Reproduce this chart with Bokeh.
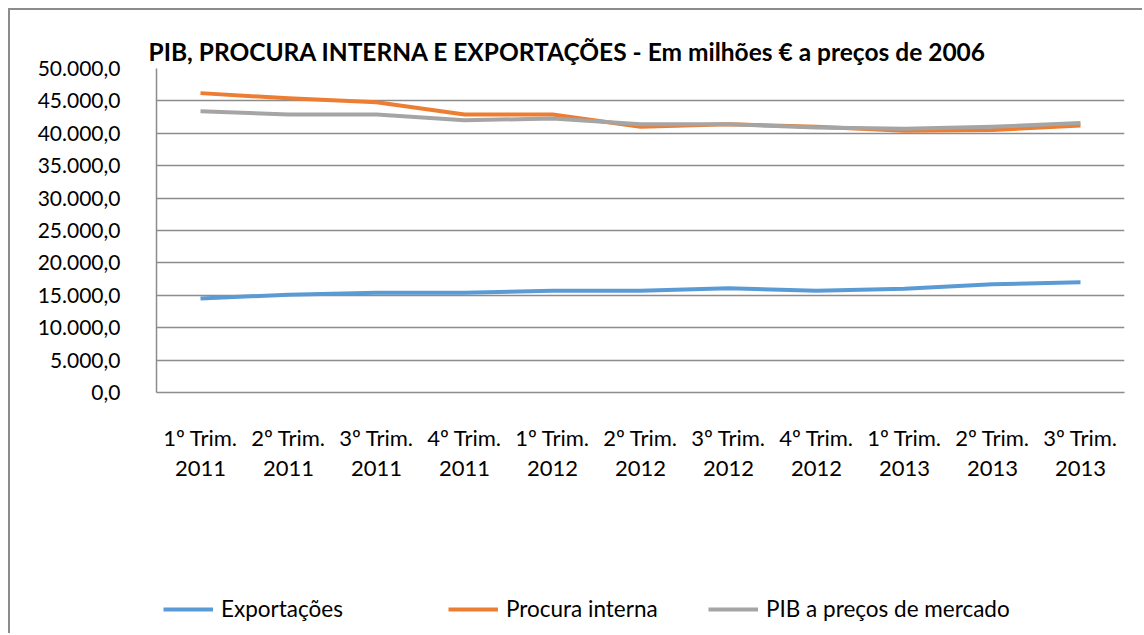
from bokeh.plotting import figure
from bokeh.layouts import column
from bokeh.models import (FactorRange, Range1d, FixedTicker, Legend, LegendItem,
                          CategoricalAxis, CustomJSTickFormatter)
from bokeh.embed import file_html
from bokeh.resources import INLINE

trimestres = ["1º Trim.", "2º Trim.", "3º Trim.", "4º Trim.",
              "1º Trim.", "2º Trim.", "3º Trim.", "4º Trim.",
              "1º Trim.", "2º Trim.", "3º Trim."]
anos = ["2011", "2011", "2011", "2011", "2012", "2012", "2012", "2012",
        "2013", "2013", "2013"]
categorias = [f"{t} {a}" for t, a in zip(trimestres, anos)]

exportacoes = [14500, 15100, 15400, 15400, 15700, 15700, 16100, 15700, 16000, 16700, 17000]
procura_interna = [46200, 45400, 44800, 42900, 42900, 41000, 41400, 41000, 40400, 40500, 41200]
pib_mercado = [43400, 42900, 42900, 42000, 42300, 41400, 41400, 40900, 40700, 41000, 41600]

y_ticks = [0, 5000, 10000, 15000, 20000, 25000, 30000, 35000, 40000, 45000, 50000]
y_tick_labels = ["0,0", "5.000,0", "10.000,0", "15.000,0", "20.000,0", "25.000,0",
                 "30.000,0", "35.000,0", "40.000,0", "45.000,0", "50.000,0"]

series_names = ["Exportações", "Procura interna", "PIB a preços de mercado"]
series_colors = ["#5B9BD5", "#ED7D31", "#A5A5A5"]
series_values = [exportacoes, procura_interna, pib_mercado]

titulo = "PIB, PROCURA INTERNA E EXPORTAÇÕES - Em milhões € a preços de 2006"

FONT = "Lato"
GRID = "#8c8c8c"
BORDER = "2px solid #8c8c8c"

x_range = FactorRange(factors=categorias, range_padding=0)
y_range = Range1d(0, 50000)

p = figure(width=1134, height=560, x_range=x_range, y_range=y_range,
           output_backend="svg", toolbar_location=None,
           min_border_left=146, min_border_right=20,
           min_border_top=58, min_border_bottom=178)
p.styles = {"margin-left": "8px", "margin-top": "8px",
            "border-left": BORDER, "border-top": BORDER}

p.outline_line_color = None
p.background_fill_color = "white"
p.border_fill_color = "white"

# title
p.title.text = titulo
p.title.align = "left"
p.title.offset = -8
p.title.standoff = 5
p.title.text_font = FONT
p.title.text_font_size = "24.5px"
p.title.text_font_style = "bold"
p.title.text_color = "black"

# grid
p.xgrid.grid_line_color = None
p.ygrid.grid_line_color = GRID
p.ygrid.grid_line_width = 1.5

# second x axis with the years
ax_anos = CategoricalAxis()
p.add_layout(ax_anos, "below")

for ax in (p.xaxis[0], p.yaxis[0], ax_anos):
    ax.axis_line_color = GRID
    ax.axis_line_width = 1.5
    ax.major_tick_line_color = None
    ax.minor_tick_line_color = None
    ax.major_label_text_font = FONT
    ax.major_label_text_font_size = "21px"
    ax.major_label_text_color = "black"

p.yaxis.ticker = FixedTicker(ticks=y_ticks)
p.yaxis.major_label_overrides = dict(zip(y_ticks, y_tick_labels))
p.yaxis.major_label_standoff = 30

xa = p.xaxis[0]
xa.formatter = CustomJSTickFormatter(args=dict(labels=dict(zip(categorias, trimestres))),
                                     code="return labels[tick];")
xa.major_label_standoff = 25
xa.major_label_text_font_size = "22px"

ax_anos.axis_line_color = None
ax_anos.formatter = CustomJSTickFormatter(args=dict(labels=dict(zip(categorias, anos))),
                                          code="return labels[tick];")
ax_anos.major_label_standoff = 1
ax_anos.major_label_text_font_size = "22px"

for vals, color in zip(series_values, series_colors):
    p.line(categorias, vals, line_color=color, line_width=4, line_join="round")

# legend strip below the chart
p2 = figure(width=1134, height=65, x_range=x_range, y_range=y_range,
            output_backend="svg", toolbar_location=None,
            x_axis_location=None, y_axis_location=None,
            min_border_left=146, min_border_right=20, min_border_top=0, min_border_bottom=0)
p2.styles = {"margin-left": "8px", "border-left": BORDER}
p2.outline_line_color = None
p2.grid.visible = False
p2.background_fill_color = "white"
p2.border_fill_color = "white"

legend_x = [7, 292, 552]
for name, color, vals, lx in zip(series_names, series_colors, series_values, legend_x):
    r = p2.line(categorias, vals, line_color=color, line_width=4, visible=False)
    leg = Legend(items=[LegendItem(label=name, renderers=[r])],
                 location=(lx, 11), orientation="horizontal",
                 border_line_color=None, background_fill_alpha=0,
                 glyph_width=50, glyph_height=20, label_standoff=8,
                 padding=0, margin=0, spacing=0,
                 label_text_font=FONT, label_text_font_size="22.5px",
                 label_text_color="black")
    p2.add_layout(leg, "center")

layout = column(p, p2, spacing=0)
open("out.html", "w").write(file_html(layout, INLINE))
